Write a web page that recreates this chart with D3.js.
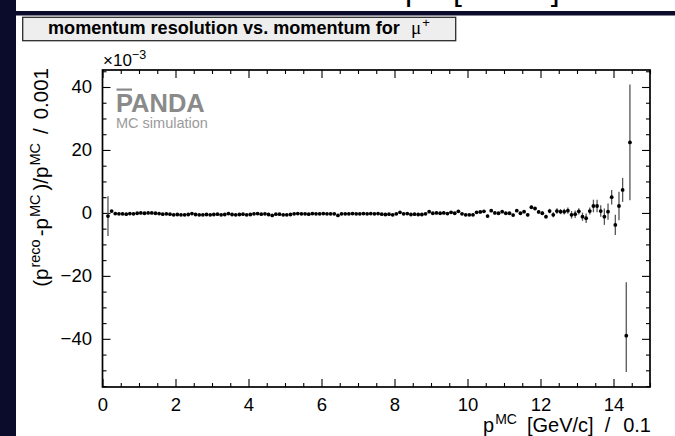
<!DOCTYPE html>
<html>
<head>
<meta charset="utf-8">
<script src="https://cdn.jsdelivr.net/npm/d3@7"></script>
<style>
  body { margin: 0; background: #fff; }
  svg { display: block; }
  text { font-family: "Liberation Sans", Arial, Helvetica, sans-serif; }
</style>
</head>
<body>
<svg id="chart" width="675" height="436"></svg>
<script>
// Momentum binning: 0.1 GeV/c bins, first filled bin centred at 0.15
const binWidth = 0.1;
const firstBinCentre = 0.15;

// Mean relative momentum deviation per bin, in units of 1e-3
const resolution = [
  -1.0, 0.6, -0.2, -0.3, -0.3, -0.4, -0.2, -0.3, -0.1, 0.0,
  -0.1, 0.0, 0.0, -0.1, -0.2, -0.4, -0.3, -0.4, -0.6, -0.5,
  -0.6, -0.6, -0.5, -0.2, -0.5, -0.6, -0.6, -0.5, -0.6, -0.5,
  -0.4, -0.6, -0.5, -0.2, -0.5, -0.6, -0.5, -0.4, -0.6, -0.5,
  -0.3, -0.2, -0.4, -0.3, -0.5, -0.8, -0.4, -0.4, -0.6, -0.6,
  -0.5, -0.3, -0.2, -0.3, -0.3, -0.4, -0.2, -0.3, -0.3, -0.2,
  -0.3, -0.3, -0.3, -0.8, -0.3, -0.3, -0.3, -0.2, -0.3, -0.3,
  -0.2, -0.3, -0.2, -0.3, -0.2, -0.4, -0.5, -0.4, -0.6, -0.3,
  0.2, -0.3, -0.2, -0.5, -0.4, -0.5, -0.5, -0.3, 0.4, -0.1,
  0.0, -0.1, 0.0, -0.2, 0.2, -0.1, 0.5, -0.3, -0.6, -0.6,
  -0.6, 0.2, 0.3, 0.5, -1.0, 0.7, 0.0, -0.1, 0.4, -0.1,
  -0.1, -0.7, 0.7, -0.1, 0.4, -0.6, 1.8, 1.4, 0.3, -0.1,
  -1.2, 0.6, -0.6, 0.6, 0.4, 0.4, 0.7, -0.6, -0.4, 0.5,
  -1.2, -1.7, 0.6, 2.2, 2.2, 0.6, -1.2, 0.4, 5.0, -3.8,
  2.2, 7.3, -39.0, 22.4
];

// Lower and upper error per bin
const errDown = [
  6.3, 0.3, 0.3, 0.3, 0.3, 0.3, 0.3, 0.3, 0.3, 0.3,
  0.3, 0.3, 0.3, 0.3, 0.3, 0.3, 0.3, 0.3, 0.3, 0.3,
  0.3, 0.3, 0.3, 0.3, 0.3, 0.3, 0.3, 0.3, 0.3, 0.3,
  0.3, 0.3, 0.3, 0.3, 0.3, 0.3, 0.3, 0.3, 0.3, 0.3,
  0.3, 0.3, 0.3, 0.3, 0.3, 0.3, 0.3, 0.3, 0.3, 0.3,
  0.3, 0.3, 0.3, 0.3, 0.3, 0.3, 0.3, 0.3, 0.3, 0.3,
  0.3, 0.3, 0.3, 0.3, 0.3, 0.3, 0.3, 0.3, 0.3, 0.3,
  0.3, 0.3, 0.3, 0.3, 0.3, 0.3, 0.3, 0.3, 0.3, 0.3,
  0.3, 0.3, 0.3, 0.3, 0.3, 0.3, 0.3, 0.3, 0.3, 0.3,
  0.3, 0.3, 0.3, 0.3, 0.3, 0.3, 0.3, 0.3, 0.3, 0.3,
  0.4, 0.4, 0.4, 0.4, 0.4, 0.4, 0.4, 0.4, 0.4, 0.4,
  0.4, 0.4, 0.4, 0.4, 0.5, 0.5, 0.5, 0.5, 0.5, 0.6,
  0.6, 0.7, 0.8, 0.9, 0.8, 0.9, 1.0, 1.2, 1.2, 1.0,
  1.3, 1.5, 1.1, 2.0, 2.0, 1.8, 2.6, 2.6, 2.3, 3.2,
  4.5, 3.8, 11.5, 18.4
];
const errUp = [
  6.3, 0.3, 0.3, 0.3, 0.3, 0.3, 0.3, 0.3, 0.3, 0.3,
  0.3, 0.3, 0.3, 0.3, 0.3, 0.3, 0.3, 0.3, 0.3, 0.3,
  0.3, 0.3, 0.3, 0.3, 0.3, 0.3, 0.3, 0.3, 0.3, 0.3,
  0.3, 0.3, 0.3, 0.3, 0.3, 0.3, 0.3, 0.3, 0.3, 0.3,
  0.3, 0.3, 0.3, 0.3, 0.3, 0.3, 0.3, 0.3, 0.3, 0.3,
  0.3, 0.3, 0.3, 0.3, 0.3, 0.3, 0.3, 0.3, 0.3, 0.3,
  0.3, 0.3, 0.3, 0.3, 0.3, 0.3, 0.3, 0.3, 0.3, 0.3,
  0.3, 0.3, 0.3, 0.3, 0.3, 0.3, 0.3, 0.3, 0.3, 0.3,
  0.3, 0.3, 0.3, 0.3, 0.3, 0.3, 0.3, 0.3, 0.3, 0.3,
  0.3, 0.3, 0.3, 0.3, 0.3, 0.3, 0.3, 0.3, 0.3, 0.3,
  0.4, 0.4, 0.4, 0.4, 0.4, 0.4, 0.4, 0.4, 0.4, 0.4,
  0.4, 0.4, 0.4, 0.4, 0.5, 0.5, 0.5, 0.5, 0.5, 0.6,
  0.6, 0.7, 0.8, 0.9, 0.8, 0.9, 1.0, 1.2, 1.2, 1.0,
  1.3, 1.5, 1.1, 2.0, 2.0, 1.8, 2.6, 2.6, 2.3, 3.2,
  4.5, 3.8, 17.0, 18.4
];

const xTickValues = [0, 2, 4, 6, 8, 10, 12, 14];
const yTickValues = [-40, -20, 0, 20, 40];
const xDomain = [0, 15];
const yDomain = [-55.3, 45.4];

const titleText = "momentum resolution vs. momentum for";

// ---------------------------------------------------------------
const svg = d3.select("#chart");
const frame = { left: 102.5, right: 650, top: 70, bottom: 387 };
const navy = "#0b0b2b";

const x = d3.scaleLinear().domain(xDomain).range([frame.left, frame.right]);
const y = d3.scaleLinear().domain(yDomain).range([frame.bottom, frame.top]);

// canvas edges: the foot of the pad above and the dark border
const clip = svg.append("defs").append("clipPath").attr("id", "topStrip");
clip.append("rect").attr("x", 0).attr("y", 0).attr("width", 675).attr("height", 11);
const prev = svg.append("text").attr("clip-path", "url(#topStrip)")
  .attr("y", -0.5).attr("font-size", 32).attr("fill", "#000");
prev.append("tspan").attr("x", 405).text("p");
prev.append("tspan").attr("font-size", 21).attr("dy", -12).text("MC");
prev.append("tspan").attr("x", 453).attr("dy", 12).text("[GeV/c]");
prev.append("tspan").attr("dx", 16).text("/");
prev.append("tspan").attr("dx", 18).text("0.1");

svg.append("rect").attr("x", 0).attr("y", 0).attr("width", 16).attr("height", 436).attr("fill", navy);
svg.append("rect").attr("x", 0).attr("y", 11).attr("width", 675).attr("height", 4.5).attr("fill", navy);

// title box
svg.append("rect").attr("x", 22.7).attr("y", 17.3).attr("width", 433).attr("height", 23.4)
  .attr("fill", "#eeeeee").attr("stroke", "#2a2a2a").attr("stroke-width", 1.3);
const title = svg.append("text").attr("x", 48).attr("y", 33.5)
  .attr("font-weight", "bold").attr("font-size", 17).text(titleText);
const tw = title.node().getComputedTextLength();
title.attr("font-size", 17 * 352 / tw);
const mu = svg.append("text").attr("x", 411).attr("y", 34)
  .style("font-family", "'Liberation Serif', 'Times New Roman', serif").attr("font-size", 19);
mu.append("tspan").text("\u03bc");
mu.append("tspan").attr("font-size", 13).attr("dy", -7).attr("dx", 1)
  .style("font-family", "'Liberation Sans', Arial, sans-serif").text("+");

// axes with inward ticks on all four sides
function styleAxis(g) {
  g.select(".domain").remove();
  g.selectAll(".tick line").attr("stroke", "#000").attr("stroke-width", 1.1);
  g.selectAll(".tick text").attr("fill", "#000").attr("font-size", 18.5)
    .style("font-family", "'Liberation Sans', Arial, Helvetica, sans-serif");
}
const xMinor = d3.range(0, 15.01, 0.5).filter(v => !xTickValues.includes(v));
const yMinor = d3.range(-55, 45.01, 5).filter(v => !yTickValues.includes(v));

svg.append("g").attr("transform", `translate(0,${frame.bottom})`)
  .call(d3.axisBottom(x).tickValues(xTickValues).tickSize(-8).tickPadding(11).tickFormat(d3.format("d")))
  .call(styleAxis);
svg.append("g").attr("transform", `translate(0,${frame.bottom})`)
  .call(d3.axisBottom(x).tickValues(xMinor).tickSize(-4).tickFormat(""))
  .call(styleAxis);
svg.append("g").attr("transform", `translate(0,${frame.top})`)
  .call(d3.axisTop(x).tickValues(xTickValues).tickSize(-8).tickFormat(""))
  .call(styleAxis);
svg.append("g").attr("transform", `translate(0,${frame.top})`)
  .call(d3.axisTop(x).tickValues(xMinor).tickSize(-4).tickFormat(""))
  .call(styleAxis);
svg.append("g").attr("transform", `translate(${frame.left},0)`)
  .call(d3.axisLeft(y).tickValues(yTickValues).tickSize(-8).tickPadding(10.5).tickFormat(d3.format("d")))
  .call(styleAxis);
svg.append("g").attr("transform", `translate(${frame.left},0)`)
  .call(d3.axisLeft(y).tickValues(yMinor).tickSize(-4).tickFormat(""))
  .call(styleAxis);
svg.append("g").attr("transform", `translate(${frame.right},0)`)
  .call(d3.axisRight(y).tickValues(yTickValues).tickSize(-8).tickFormat(""))
  .call(styleAxis);
svg.append("g").attr("transform", `translate(${frame.right},0)`)
  .call(d3.axisRight(y).tickValues(yMinor).tickSize(-4).tickFormat(""))
  .call(styleAxis);

svg.append("rect").attr("x", frame.left).attr("y", frame.top)
  .attr("width", frame.right - frame.left).attr("height", frame.bottom - frame.top)
  .attr("fill", "none").attr("stroke", "#000").attr("stroke-width", 1.7);

// exponent of the y axis
const expo = svg.append("text").attr("x", 103).attr("y", 66).attr("font-size", 17);
expo.append("tspan").text("\u00d710");
expo.append("tspan").attr("font-size", 12.5).attr("dy", -7.5).text("\u22123");

// PANDA label
svg.append("text").attr("x", 116).attr("y", 112)
  .attr("font-size", 25.5).attr("font-weight", "bold").attr("fill", "#8a8a8a").text("PANDA");
svg.append("rect").attr("x", 116.5).attr("y", 88.5).attr("width", 15.5).attr("height", 2.2).attr("fill", "#8a8a8a");
svg.append("text").attr("x", 116).attr("y", 128).attr("font-size", 14.5).attr("fill", "#9a9a9a")
  .text("MC simulation");

// axis titles
const xt = svg.append("text").attr("x", 651).attr("y", 432).attr("font-size", 20).attr("text-anchor", "end");
xt.append("tspan").text("p");
xt.append("tspan").attr("font-size", 14).attr("dy", -8).attr("dx", 1).text("MC");
xt.append("tspan").attr("dy", 8).attr("dx", 10).text("[GeV/c]");
xt.append("tspan").attr("dx", 11).text("/");
xt.append("tspan").attr("dx", 13).text("0.1");

const yt = svg.append("text").attr("transform", "translate(48,68) rotate(-90)")
  .attr("font-size", 20.5).attr("text-anchor", "end");
yt.append("tspan").text("(p");
yt.append("tspan").attr("font-size", 14.5).attr("dy", -8).attr("dx", 1).text("reco");
yt.append("tspan").attr("dy", 8).attr("dx", 3).text("-p");
yt.append("tspan").attr("font-size", 14.5).attr("dy", -8).attr("dx", 1).text("MC");
yt.append("tspan").attr("dy", 8).attr("dx", 4).text(")/p");
yt.append("tspan").attr("font-size", 14.5).attr("dy", -8).attr("dx", 1).text("MC");
yt.append("tspan").attr("dy", 8).attr("dx", 9).text("/");
yt.append("tspan").attr("dx", 9).text("0.001");

// data points with error bars
const points = resolution.map((v, i) => ({
  p: firstBinCentre + i * binWidth, v, lo: errDown[i], hi: errUp[i]
}));
svg.append("g").selectAll("line").data(points).join("line")
  .attr("x1", d => x(d.p)).attr("x2", d => x(d.p))
  .attr("y1", d => y(d.v - d.lo)).attr("y2", d => y(d.v + d.hi))
  .attr("stroke", "#555").attr("stroke-width", 1.3);
svg.append("g").selectAll("circle").data(points).join("circle")
  .attr("cx", d => x(d.p)).attr("cy", d => y(d.v)).attr("r", 1.9).attr("fill", "#000");
</script>
</body>
</html>
